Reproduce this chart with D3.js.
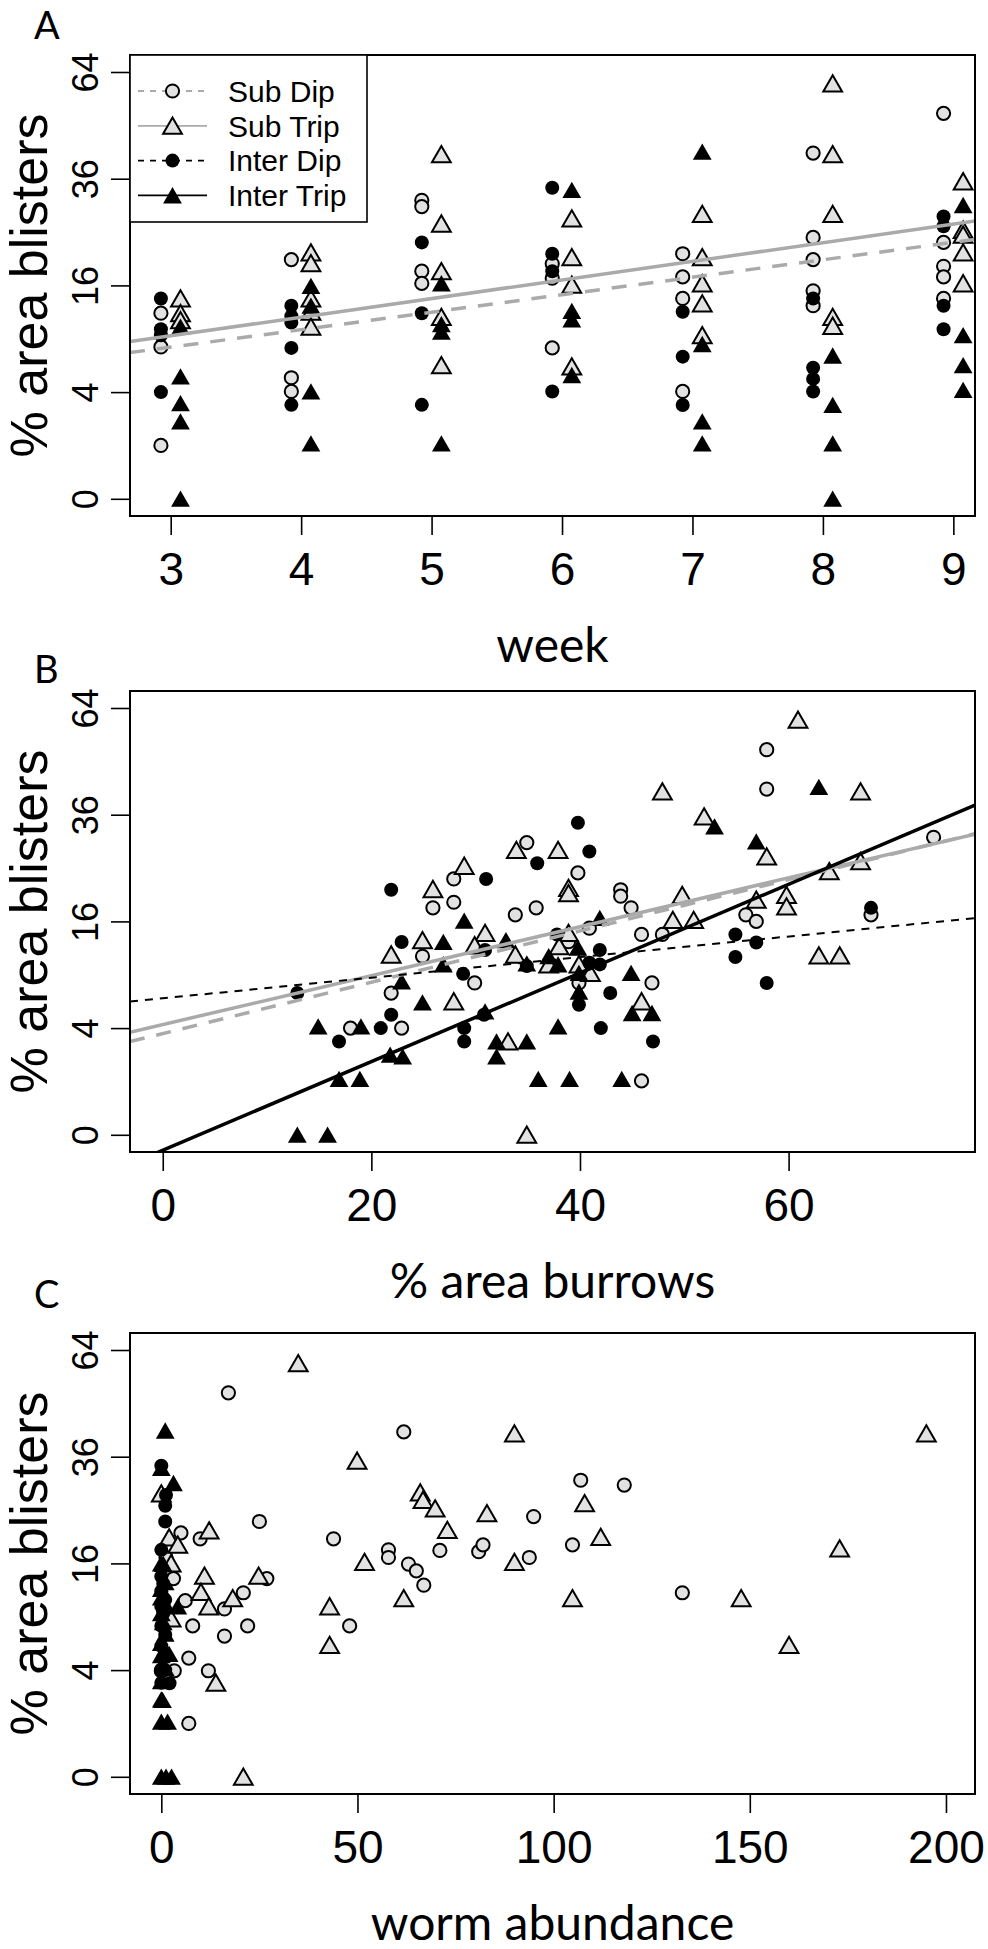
<!DOCTYPE html>
<html>
<head>
<meta charset="utf-8">
<script src="https://cdn.jsdelivr.net/npm/d3@7"></script>
<style>
  body { margin: 0; background: #fff; }
</style>
</head>
<body>
<svg id="chart" width="988" height="1949"></svg>
<script>
// ---------- data (values are % area blisters) ----------
var blisterTicks = [0, 4, 16, 36, 64];
var weekTicks = [3, 4, 5, 6, 7, 8, 9];
var burrowTicks = [0, 20, 40, 60];
var wormTicks = [0, 50, 100, 150, 200];
var legendLabels = ["Sub Dip", "Sub Trip", "Inter Dip", "Inter Trip"];

// panel A: [week, blisters]
var aSubDip = [[3,12.1],[3,8.1],[3,1.0],[4,20.1],[4,5.15],[4,4.05],[5,31.3],[5,30.0],[5,18.2],[5,16.3],
  [6,19.4],[6,17.1],[6,8.0],[7,21.1],[7,17.3],[7,14.1],[7,4.05],[8,42.0],[8,24.0],[8,20.1],[8,15.2],[8,13.1],
  [9,52.2],[9,23.1],[9,19.0],[9,17.3],[9,14.1]];
var aSubTrip = [[3,14.1],[3,12.1],[3,11.2],[4,21.3],[4,19.5],[4,14.1],[4,12.3],[4,10.4],[5,41.7],[5,26.6],
  [5,18.2],[5,11.6],[5,6.26],[6,27.6],[6,20.5],[6,16.1],[6,6.15],[7,28.5],[7,20.5],[7,16.3],[7,13.4],[7,9.4],
  [8,60.6],[8,41.7],[8,28.5],[8,11.6],[8,10.5],[9,35.4],[9,25.4],[9,24.5],[9,21.3],[9,16.3]];
var aInterDip = [[3,14.1],[3,10.1],[3,9.4],[3,4.0],[4,13.1],[4,11.7],[4,10.9],[4,8.0],[4,3.1],[5,23.1],[5,12.1],
  [5,3.1],[6,34.0],[6,21.1],[6,18.2],[6,4.05],[7,12.3],[7,7.1],[7,3.09],[8,14.1],[8,6.03],[8,5.05],[8,4.05],
  [9,28.0],[9,26.1],[9,13.1],[9,10.1]];
var aInterTrip = [[3,10.4],[3,5.25],[3,3.2],[3,2.1],[3,0],[4,15.9],[4,13.1],[4,4.05],[4,1.07],[5,16.3],[5,10.7],
  [5,9.8],[5,1.07],[6,33.5],[6,12.4],[6,11.3],[6,5.37],[7,42.3],[7,8.4],[7,2.1],[7,1.07],[8,7.2],[8,3.09],
  [8,1.07],[8,0],[9,30.3],[9,9.4],[9,6.26],[9,4.15]];
// fitted lines on the sqrt scale: [intercept, slope]
var aLineSubDip = [1.859, 0.3277];
var aLineSubTrip = [2.008, 0.349];

// panel B: [% area burrows, blisters]
var bSubDip = [[27.9,23.0],[25.9,18.1],[27.9,19.0],[24.9,11.2],[29.9,8.1],[21.9,7.06],[57.9,52.1],[57.9,42.0],
  [73.9,31.1],[55.9,17.0],[56.9,16.0],[67.9,17.0],[47.9,14.1],[45.9,14.1],[43.9,21.1],[43.9,20.0],[44.9,18.1],
  [39.8,24.1],[34.9,30.0],[33.8,17.0],[35.8,18.1],[40.9,15.0],[38.9,13.1],[39.9,8.1],[46.9,8.1],[18.0,4.0],
  [22.9,4.0],[45.9,1.02]];
var bSubTrip = [[25.9,21.2],[28.9,25.4],[24.9,13.3],[21.9,11.4],[30.9,14.3],[29.9,12.6],[27.9,6.25],[60.9,60.5],
  [66.9,41.4],[47.9,41.4],[51.9,35.6],[57.9,27.2],[66.9,26.3],[63.9,24.4],[59.8,20.2],[59.8,18.3],[56.9,19.4],
  [62.9,11.3],[64.9,11.3],[49.8,20.2],[48.9,16.2],[50.9,16.2],[38.9,21.4],[38.9,20.5],[33.9,28.5],[37.9,28.5],
  [38.9,14.3],[33.8,11.4],[37.0,10.2],[38.0,12.5],[39.9,10.2],[41.0,9.2],[45.9,6.25],[33.1,3.06],[34.9,0]];
var bInterDip = [[12.9,7.06],[21.9,21.1],[31.0,23.0],[22.9,13.05],[30.9,12.0],[28.8,9.1],[21.9,5.06],[39.8,34.2],
  [40.9,28.2],[35.9,25.9],[67.9,18.1],[54.9,14.1],[56.9,13.0],[54.9,11.1],[57.9,8.09],[37.8,14.1],[41.9,12.0],
  [40.9,10.4],[41.9,10.2],[34.9,10.0],[42.9,7.06],[39.9,5.94],[16.9,3.06],[20.9,4.0],[28.9,4.0],[28.9,3.06],
  [30.8,5.06],[42.0,4.0],[47.0,3.06]];
var bInterTrip = [[28.9,16.1],[26.9,13.05],[26.9,10.2],[22.9,8.26],[24.9,6.15],[30.9,5.34],[62.9,42.5],[52.9,33.4],
  [56.9,30.2],[41.9,16.5],[32.9,13.3],[34.9,10.3],[37.0,11.2],[37.9,10.2],[39.8,12.3],[39.9,9.2],[44.9,9.2],
  [39.9,7.2],[45.0,5.2],[46.9,5.2],[14.9,4.12],[19.0,4.12],[21.8,2.25],[23.0,2.15],[16.9,1.09],[18.9,1.09],
  [32.0,3.06],[32.0,2.15],[34.9,3.06],[37.9,4.12],[36.0,1.09],[39.0,1.09],[44.0,1.09],[12.9,0],[15.8,0]];
var bLineSubDip = [1.897, 0.0481];
var bLineSubTrip = [2.066, 0.04585];
var bLineInterDip = [2.559, 0.0193];
var bLineInterTrip = [-0.29, 0.0831];

// panel C: [worm abundance, blisters]
var cSubDip = [[17.1,51.8],[61.8,41.8],[25.0,22.9],[5.0,20.9],[9.9,19.9],[43.9,19.9],[1.2,16.9],[57.9,18.1],
  [57.9,16.9],[63.0,15.9],[65.0,14.9],[3.1,13.8],[26.9,13.8],[20.9,11.9],[6.1,10.9],[16.1,9.9],[8.0,8.0],
  [22.0,8.0],[48.0,8.0],[16.1,6.96],[7.0,4.95],[0,3.95],[3.3,3.95],[12.0,3.95],[7.0,1.0],[106.9,30.9],
  [118.0,29.9],[94.9,23.8],[71.0,18.0],[80.9,17.8],[82.0,18.9],[93.8,16.9],[104.8,18.9],[66.9,12.9],[132.8,11.9]];
var cSubTrip = [[34.9,60.1],[49.9,35.1],[0,28.2],[2.0,20.1],[12.2,21.3],[4.2,18.9],[2.5,16.0],[51.8,16.2],
  [11.0,14.2],[24.8,14.2],[10.1,12.0],[18.2,11.2],[12.1,10.2],[2.5,8.8],[42.9,10.2],[61.8,11.2],[42.9,6.1],
  [13.9,3.1],[20.9,0],[90.0,41.4],[195.0,41.4],[66.0,28.4],[66.7,26.9],[69.8,25.3],[72.9,21.4],[83.0,24.4],
  [107.9,26.3],[112.0,20.2],[90.0,16.2],[104.8,11.2],[147.8,11.2],[172.9,18.3],[160.0,6.1]];
var cInterDip = [[0,34.0],[1.2,27.9],[1.0,25.8],[1.0,22.9],[0,18.1],[0,14.1],[0.5,13.1],[0,12.1],[1,11],[0,10.2],
  [0.5,9.4],[0,8],[1,7.1],[0,6],[0.5,5],[0,4.05],[0,3.1],[2.1,3.07],[1,4]];
var cInterTrip = [[1.0,42.1],[0,33.5],[3.1,30.3],[0,16.0],[0.5,15.9],[1,13.3],[0,12.4],[4.2,10.2],[0,11.3],
  [1,10.5],[0,9.4],[0.5,8.4],[1,7.2],[0,6.3],[2,5.3],[0,5.2],[1,4.15],[0,3.2],[0.3,2.07],[0,2.1],[0,1.06],
  [1.6,1.06],[0,0],[1.2,0],[2.6,0]];

// ---------- drawing ----------
var svg = d3.select("#chart");
var left = 130, right = 975, ph = 461;
var fillGray = "#e2e2e2", lineGray = "#aaaaaa";
var helv = "'Liberation Sans', Arial, Helvetica, sans-serif";
var myriad = "Lato, 'Open Sans', sans-serif";

// R-like triangle (pch 24 / 17)
var tri = { draw: function (ctx) {
  ctx.moveTo(0, -8.3); ctx.lineTo(9.4, 8.0); ctx.lineTo(-9.4, 8.0); ctx.closePath();
}};

var styles = {
  subDip:    { shape: "circle", fill: fillGray, stroke: "#000", off: -0.075 },
  subTrip:   { shape: "tri",    fill: fillGray, stroke: "#000", off: 0.075 },
  interDip:  { shape: "circle", fill: "#000",   stroke: "none", off: -0.075 },
  interTrip: { shape: "tri",    fill: "#000",   stroke: "none", off: 0.075 }
};
var lineStyles = {
  subDip:    { color: lineGray, width: 3.5, dash: "15,12" },
  subTrip:   { color: lineGray, width: 3.5, dash: null },
  interDip:  { color: "#000",   width: 2,   dash: "8,7" },
  interTrip: { color: "#000",   width: 3.5, dash: null }
};

function drawMark(sel, st) {
  if (st.shape === "circle") {
    sel.append("circle").attr("r", st.stroke === "none" ? 7 : 6.6)
      .attr("fill", st.fill).attr("stroke", st.stroke).attr("stroke-width", 2);
  } else {
    sel.append("path").attr("d", d3.symbol().type(tri)())
      .attr("fill", st.fill).attr("stroke", st.stroke).attr("stroke-width", 2)
      .attr("stroke-linejoin", "miter");
  }
}

function panel(opt) {
  var top = opt.top;
  var x = d3.scaleLinear().domain(opt.xDomain).range([left, right]);
  var y = d3.scaleSqrt().domain([-0.104, 69.2]).range([top + ph, top]);

  svg.append("clipPath").attr("id", "clip" + opt.id)
    .append("rect").attr("x", left).attr("y", top).attr("width", right - left).attr("height", ph);

  var g = svg.append("g");
  opt.series.forEach(function (s) {
    var st = styles[s.kind];
    var off = opt.jitter ? st.off : 0;
    g.selectAll(null).data(s.data).enter().append("g")
      .attr("transform", function (d) { return "translate(" + x(d[0] + off) + "," + y(d[1]) + ")"; })
      .each(function () { drawMark(d3.select(this), st); });
  });

  // fitted lines (straight on the sqrt scale)
  var lg = svg.append("g").attr("clip-path", "url(#clip" + opt.id + ")");
  opt.lines.forEach(function (l) {
    var ls = lineStyles[l.kind];
    var ends = opt.xDomain.map(function (xv) {
      var s = l.coef[0] + l.coef[1] * xv;
      return [xv, s < 0 ? -s * s : s * s];
    });
    lg.append("line")
      .attr("x1", x(ends[0][0])).attr("y1", y(ends[0][1]))
      .attr("x2", x(ends[1][0])).attr("y2", y(ends[1][1]))
      .attr("stroke", ls.color).attr("stroke-width", ls.width)
      .attr("stroke-dasharray", ls.dash);
  });

  // box
  svg.append("rect").attr("x", left).attr("y", top).attr("width", right - left).attr("height", ph)
    .attr("fill", "none").attr("stroke", "#000").attr("stroke-width", 2);

  // y axis
  var gy = svg.append("g").attr("transform", "translate(" + left + ",0)")
    .call(d3.axisLeft(y).tickValues(blisterTicks).tickSize(19).tickFormat(d3.format("d")));
  gy.select(".domain").remove();
  gy.attr("font-family", helv).attr("font-size", 36);
  gy.selectAll(".tick line").attr("stroke-width", 1.6);
  gy.selectAll(".tick text").attr("x", 0).attr("dy", 0).attr("fill", "#000")
    .attr("text-anchor", "middle").attr("transform", "translate(-32,0) rotate(-90)");

  // x axis
  var gx = svg.append("g").attr("transform", "translate(0," + (top + ph) + ")")
    .call(d3.axisBottom(x).tickValues(opt.xTicks).tickSize(19).tickPadding(17).tickFormat(d3.format("d")));
  gx.select(".domain").remove();
  gx.attr("font-family", helv).attr("font-size", 46);
  gx.selectAll(".tick line").attr("stroke-width", 1.6);
  gx.selectAll(".tick text").attr("fill", "#000");

  // titles
  svg.append("text").attr("transform", "translate(47," + (top + ph / 2) + ") rotate(-90)")
    .attr("text-anchor", "middle").attr("font-family", helv).attr("font-size", 52)
    .text("% area blisters");
  svg.append("text").attr("x", (left + right) / 2).attr("y", top + ph + 146)
    .attr("text-anchor", "middle").attr("font-family", myriad).attr("font-size", 48)
    .text(opt.xTitle);
  svg.append("text").attr("x", 34).attr("y", opt.letterY)
    .attr("font-family", myriad).attr("font-size", 38).text(opt.letter);
}

panel({
  id: "A", top: 55, letter: "A", letterY: 39, jitter: true,
  xDomain: [2.688, 9.166], xTicks: weekTicks, xTitle: "week",
  series: [
    { kind: "subDip", data: aSubDip }, { kind: "subTrip", data: aSubTrip },
    { kind: "interDip", data: aInterDip }, { kind: "interTrip", data: aInterTrip }
  ],
  lines: [{ kind: "subDip", coef: aLineSubDip }, { kind: "subTrip", coef: aLineSubTrip }]
});

panel({
  id: "B", top: 691, letter: "B", letterY: 683, jitter: false,
  xDomain: [-3.14, 77.87], xTicks: burrowTicks, xTitle: "% area burrows",
  series: [
    { kind: "subDip", data: bSubDip }, { kind: "subTrip", data: bSubTrip },
    { kind: "interDip", data: bInterDip }, { kind: "interTrip", data: bInterTrip }
  ],
  lines: [
    { kind: "subDip", coef: bLineSubDip }, { kind: "subTrip", coef: bLineSubTrip },
    { kind: "interDip", coef: bLineInterDip }, { kind: "interTrip", coef: bLineInterTrip }
  ]
});

panel({
  id: "C", top: 1333, letter: "C", letterY: 1308, jitter: false,
  xDomain: [-7.98, 207.4], xTicks: wormTicks, xTitle: "worm abundance",
  series: [
    { kind: "subDip", data: cSubDip }, { kind: "subTrip", data: cSubTrip },
    { kind: "interDip", data: cInterDip }, { kind: "interTrip", data: cInterTrip }
  ],
  lines: []
});

// legend in panel A
var kinds = ["subDip", "subTrip", "interDip", "interTrip"];
var leg = svg.append("g");
leg.append("rect").attr("x", left).attr("y", 55).attr("width", 237).attr("height", 167)
  .attr("fill", "#fff").attr("stroke", "#000").attr("stroke-width", 1.6);
var rows = leg.selectAll(".row").data(kinds).enter().append("g")
  .attr("transform", function (d, i) { return "translate(0," + (91 + i * 34.8) + ")"; });
rows.append("line").attr("x1", 138).attr("x2", 207).attr("y1", 0).attr("y2", 0)
  .attr("stroke", function (d) { return lineStyles[d].color; })
  .attr("stroke-width", 1.8)
  .attr("stroke-dasharray", function (d) { return lineStyles[d].dash ? "6,6" : null; });
rows.append("g").attr("transform", "translate(172.5,0)")
  .each(function (d) { drawMark(d3.select(this), styles[d]); });
rows.append("text").attr("x", 228).attr("dy", "0.36em")
  .attr("font-family", helv).attr("font-size", 30)
  .text(function (d, i) { return legendLabels[i]; });
</script>
</body>
</html>
